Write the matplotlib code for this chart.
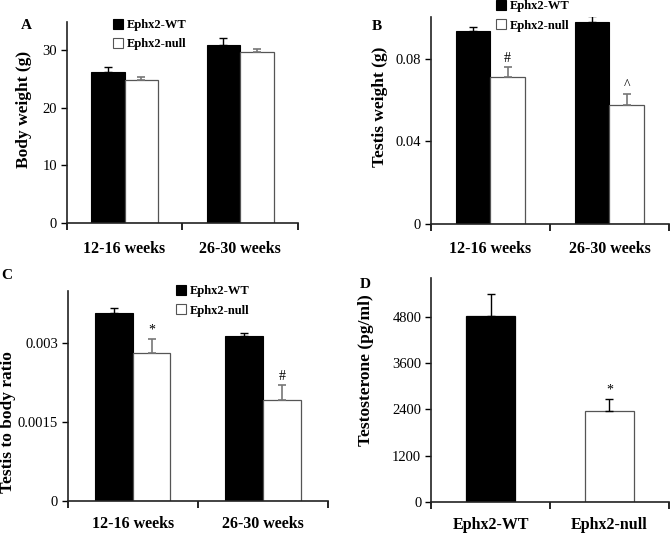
import matplotlib
matplotlib.use('Agg')
import matplotlib.pyplot as plt
from matplotlib.patches import Patch

plt.rcParams['font.family'] = ['Liberation Serif', 'DejaVu Serif']

groups = ['Ephx2-WT', 'Ephx2-null']
ages = ['12-16 weeks', '26-30 weeks']

# panel A: body weight (g)
body_wt = [26.3, 31.0]
body_wt_err = [0.9, 1.1]
body_null = [24.8, 29.8]
body_null_err = [0.5, 0.4]

# panel B: testis weight (g)
testis_wt = [0.0933, 0.0976]
testis_wt_err = [0.0019, 0.0030]
testis_null = [0.0710, 0.0574]
testis_null_err = [0.0048, 0.0053]
testis_marks = ['#', '^']

# panel C: testis to body ratio
ratio_wt = [0.00357, 0.00314]
ratio_wt_err = [0.00010, 0.00006]
ratio_null = [0.00282, 0.00193]
ratio_null_err = [0.00026, 0.00028]
ratio_marks = ['*', '#']

# panel D: testosterone (pg/ml)
testo = [4810, 2350]
testo_err = [590, 320]
testo_marks = ['', '*']

fig = plt.figure(figsize=(6.7, 5.33), dpi=100)

NULL_EDGE = '#555555'
NULL_ERR = '#777777'
TICK_FS = 10.5
CAT_FS = 11.5
YLAB_FS = 12.5
LEG_FS = 9


def style_axes(ax, ncat, ylim, yticks, yticklabels):
    ax.set_xlim(-0.5, ncat - 0.5)
    ax.set_ylim(*ylim)
    for s in ['top', 'right']:
        ax.spines[s].set_visible(False)
    for s in ['left', 'bottom']:
        ax.spines[s].set_linewidth(1.2)
        ax.spines[s].set_color('#222222')
    ax.set_yticks(yticks)
    ax.set_yticklabels(yticklabels, fontsize=TICK_FS)
    ax.tick_params(axis='y', direction='out', length=4, width=1, pad=3)
    # category boundary ticks on x axis
    ax.set_xticks([i - 0.5 for i in range(ncat + 1)])
    ax.set_xticklabels([''] * (ncat + 1))
    ax.tick_params(axis='x', direction='out', length=5, width=1.2)


def cat_labels(ax, labels, off):
    for i, lab in enumerate(labels):
        ax.annotate(lab, xy=(i, 0), xycoords=('data', 'axes fraction'),
                    xytext=(0, off), textcoords='offset points', ha='center', va='center',
                    fontsize=CAT_FS, fontweight='bold')


def grouped(ax, wt, wt_err, null, null_err, marks, ylim, yticks, yticklabels, ylabel,
            mark_pad, off):
    w = 0.29
    x = range(len(ages))
    xw = [i - w / 2 for i in x]
    xn = [i + w / 2 for i in x]
    ax.bar(xw, wt, w, color='black', edgecolor='black', linewidth=0.8, zorder=2)
    ax.bar(xn, null, w, color='white', edgecolor=NULL_EDGE, linewidth=0.9, zorder=2)
    ax.errorbar(xw, wt, yerr=[[0] * len(wt), wt_err], fmt='none', ecolor='black',
                elinewidth=1, capsize=3, capthick=1, zorder=3)
    ax.errorbar(xn, null, yerr=[[0] * len(null), null_err], fmt='none', ecolor=NULL_ERR,
                elinewidth=1.2, capsize=3, capthick=1.2, zorder=3)
    if marks:
        for xi, v, e, m in zip(xn, null, null_err, marks):
            ax.text(xi, v + e + mark_pad, m, ha='center', va='bottom', fontsize=10)
    style_axes(ax, len(ages), ylim, yticks, yticklabels)
    cat_labels(ax, ages, off)
    ax.set_ylabel(ylabel, fontsize=YLAB_FS, fontweight='bold')


def add_legend(ax, x, y):
    handles = [Patch(facecolor='black', edgecolor='black', linewidth=0.8),
               Patch(facecolor='white', edgecolor=NULL_EDGE, linewidth=0.8)]
    ax.legend(handles, groups, loc='upper left', bbox_to_anchor=(x, y),
              bbox_transform=fig.transFigure, frameon=False, handlelength=0.85,
              handleheight=0.85, handletextpad=0.3, labelspacing=0.55, borderpad=0,
              borderaxespad=0, prop={'weight': 'bold', 'size': LEG_FS})


# A
axA = fig.add_axes([0.0996, 0.5816, 0.3452, 0.3777])
grouped(axA, body_wt, body_wt_err, body_null, body_null_err, None,
        (0, 35), [0, 10, 20, 30], ['0', '10', '20', '30'], 'Body weight (g)', 0, -18.5)
axA.yaxis.set_label_coords(-0.15, 0.565)
add_legend(axA, 0.168, 0.965)
fig.text(0.040, 0.953, 'A', fontsize=11, fontweight='bold', ha='center', va='center')

# B
axB = fig.add_axes([0.6428, 0.5803, 0.3557, 0.3872])
grouped(axB, testis_wt, testis_wt_err, testis_null, testis_null_err, testis_marks,
        (0, 0.1), [0, 0.04, 0.08], ['0', '0.04', '0.08'], 'Testis weight (g)', 0.001, -18)
axB.yaxis.set_label_coords(-0.18, 0.565)
add_legend(axB, 0.740, 1.0)
fig.text(0.563, 0.951, 'B', fontsize=11, fontweight='bold', ha='center', va='center')

# C
axC = fig.add_axes([0.1010, 0.0595, 0.3885, 0.3951])
grouped(axC, ratio_wt, ratio_wt_err, ratio_null, ratio_null_err, ratio_marks,
        (0, 0.004), [0, 0.0015, 0.003], ['0', '0.0015', '0.003'], 'Testis to body ratio',
        0.00004, -16.5)
axC.yaxis.set_label_coords(-0.2, 0.377)
add_legend(axC, 0.262, 0.465)
fig.text(0.010, 0.484, 'C', fontsize=11, fontweight='bold', ha='center', va='center')

# D
axD = fig.add_axes([0.6433, 0.0582, 0.3552, 0.4197])
xd = range(len(groups))
axD.bar(xd, testo, 0.41, color=['black', 'white'], edgecolor=['black', NULL_EDGE],
        linewidth=0.9, zorder=2)
axD.errorbar(xd, testo, yerr=[[0] * len(testo), testo_err], fmt='none',
             ecolor='black', elinewidth=1, capsize=3, capthick=1, zorder=3)
for xi, v, e, m in zip(xd, testo, testo_err, testo_marks):
    if m:
        axD.text(xi, v + e + 60, m, ha='center', va='bottom', fontsize=10)
style_axes(axD, len(groups), (0, 5800), [0, 1200, 2400, 3600, 4800],
           ['0', '1200', '2400', '3600', '4800'])
cat_labels(axD, groups, -16.5)
axD.set_ylabel('Testosterone (pg/ml)', fontsize=YLAB_FS, fontweight='bold')
axD.yaxis.set_label_coords(-0.24, 0.59)
fig.text(0.545, 0.466, 'D', fontsize=11, fontweight='bold', ha='center', va='center')

fig.savefig('out.png', dpi=100)
